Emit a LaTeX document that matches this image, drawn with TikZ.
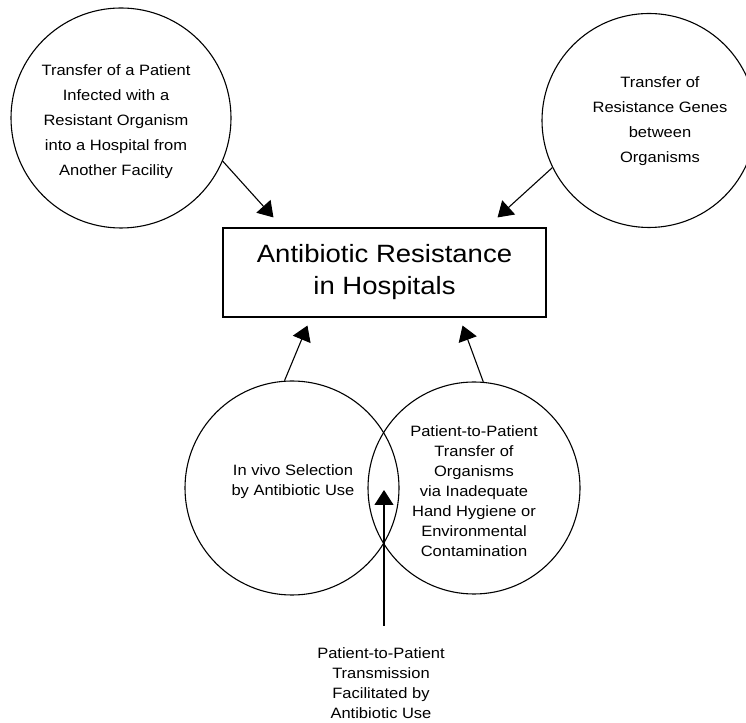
\documentclass[tikz,border=0pt]{standalone}
\usepackage{fontspec}
\setmainfont{Liberation Sans}[FakeStretch=1.1]
\usepackage{tikz}
\usetikzlibrary{arrows.meta, calc, positioning}

\begin{document}
\begin{tikzpicture}[x=1pt, y=1pt, line width=1.1pt,
    bubble/.style={draw, circle, inner sep=0pt},
    lbl/.style={align=center, font=\fontsize{15}{25}\selectfont},
    lblsmall/.style={align=center, font=\fontsize{15}{20}\selectfont},
    arr/.style={-{Triangle[length=15pt, width=19pt]}}]
    \useasboundingbox (0,0) rectangle (746,722);
    \node[draw, minimum width=323pt, minimum height=89pt, align=center,
        font=\fontsize{25}{32}\selectfont] (res) at (384.5,449.5) {Antibiotic Resistance\\in Hospitals};
    \node[bubble, minimum size=220pt] (patient) at (121,604) {};
    \node[lbl] (patienttxt) at (116,600) {Transfer of a Patient\\Infected with a\\Resistant Organism\\into a Hospital from\\Another Facility};
    \node[bubble, minimum size=214pt] (genes) at (649,601.5) {};
    \node[lbl] (genestxt) at (660,601) {Transfer of\\Resistance Genes\\between\\Organisms};
    \node[bubble, minimum size=214pt] (invivo) at (292,234) {};
    \node[lblsmall] (invivotxt) at (293,240) {In vivo Selection\\by Antibiotic Use};
    \node[bubble, minimum size=212pt] (spread) at (474,234) {};
    \node[lblsmall] (spreadtxt) at (474,231) {Patient-to-Patient\\Transfer of\\Organisms\\via Inadequate\\Hand Hygiene or\\Environmental\\Contamination};
    \node[lblsmall, anchor=north] (note) at (381,78) {Patient-to-Patient\\Transmission\\Facilitated by\\Antibiotic Use};
    \coordinate (mid) at (384,232);
    \draw[arr] (patient.-23) -- ([shift={(51,10)}]res.north west);
    \draw[arr] (genes.206) -- ([shift={(-49,10)}]res.north east);
    \draw[arr] (invivo.94) -- ([shift={(85,-8)}]res.south west);
    \draw[arr] (spread.85) -- ([shift={(-84,-8)}]res.south east);
    \draw[arr, shorten <=18pt] (note.north -| mid) -- (mid);
\end{tikzpicture}
\end{document}
